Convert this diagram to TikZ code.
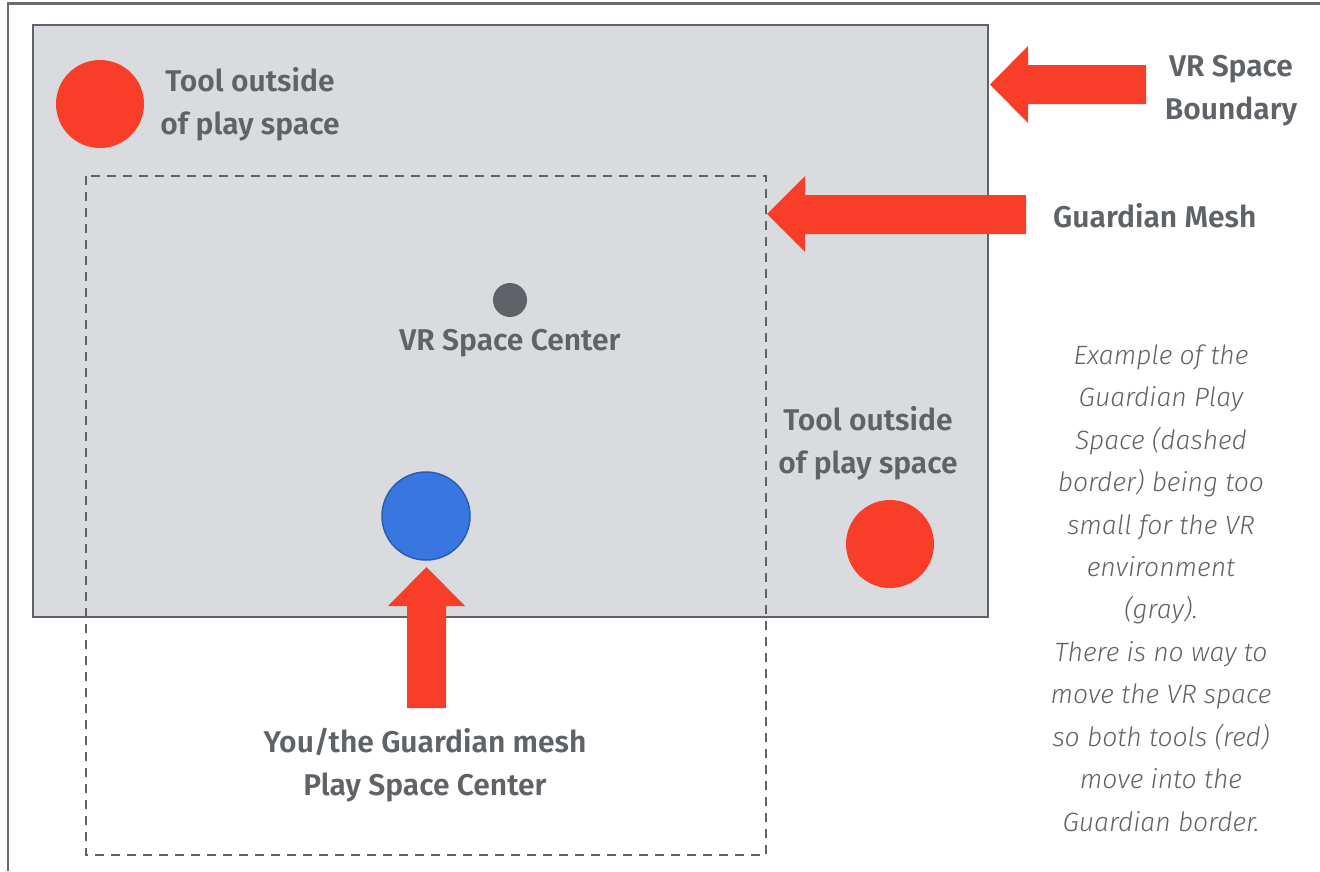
\documentclass[tikz,border=0pt]{standalone}
\usepackage{fontspec}
\setmainfont{Fira Sans}
\newfontfamily\lblfont{Fira Sans SemiBold}
\newfontfamily\notefont{Fira Sans Light Italic}
\usetikzlibrary{calc}
\definecolor{toolred}{HTML}{F83E29}
\definecolor{txtgray}{HTML}{5F6368}
\definecolor{vrfill}{HTML}{DADBDE}
\definecolor{youblue}{HTML}{3877E0}
\definecolor{youedge}{HTML}{2A5CB3}
\definecolor{framegray}{HTML}{6A6D70}
\tikzset{
  lbl/.style={text=txtgray, font=\fontsize{30}{43}\selectfont\lblfont, align=center, inner sep=0pt},
  note/.style={text=txtgray, font=\fontsize{26.5}{42.45}\selectfont\notefont, align=center, inner sep=0pt},
  tool/.style={circle, fill=toolred, minimum size=88pt, inner sep=0pt},
  redarrow/.style={fill=toolred},
}
\begin{document}
\begin{tikzpicture}[x=1pt,y=-1pt]
\useasboundingbox (0,0) rectangle (1320,871);
% outer frame (cropped)
\draw[framegray, line width=2.2pt] (8,871) -- (8,3.5) -- (1320,3.5);
% VR space
\draw[txtgray, fill=vrfill, line width=2.2pt] (33,25) rectangle (988,617);
% Guardian mesh
\draw[txtgray, line width=2.8pt, dash pattern=on 9pt off 7pt] (86,176) rectangle (766,855);
% tools
\node[tool] (t1) at (100,104) {};
\node[tool] (t2) at (890,544) {};
\node[lbl] (t1l) at (250,104) {Tool outside\\of play space};
\node[lbl] (t2l) at (868,443) {Tool outside\\of play space};
% center
\node[circle, fill=txtgray, minimum size=34pt, inner sep=0pt] (vc) at (510,300) {};
\node[lbl] (vcl) at (510,343) {VR Space Center};
% you
\node[circle, fill=youblue, draw=youedge, line width=1.5pt, minimum size=88pt, inner sep=0pt] (you) at (426,516) {};
\node[lbl] (youl) at (425,765) {You/the Guardian mesh\\Play Space Center};
% arrows
\fill[redarrow] (990,84.5) -- (1028,46) -- (1028,65) -- (1146,65) -- (1146,104) -- (1028,104) -- (1028,123) -- cycle;
\fill[redarrow] (767,214) -- (805,176) -- (805,195) -- (1026,195) -- (1026,234) -- (805,234) -- (805,252) -- cycle;
\fill[redarrow] (426.5,567) -- (465,606) -- (446,606) -- (446,708) -- (407,708) -- (407,606) -- (388,606) -- cycle;
% right labels
\node[lbl] (vrb) at (1231,90.5) {VR Space\\Boundary};
\node[lbl, anchor=west] (gm) at (1053,216) {Guardian Mesh};
\node[note] (nt) at (1161,588) {Example of the\\Guardian Play\\Space (dashed\\border) being too\\small for the VR\\environment\\(gray).\\There is no way to\\move the VR space\\so both tools (red)\\move into the\\Guardian border.};
\end{tikzpicture}
\end{document}
